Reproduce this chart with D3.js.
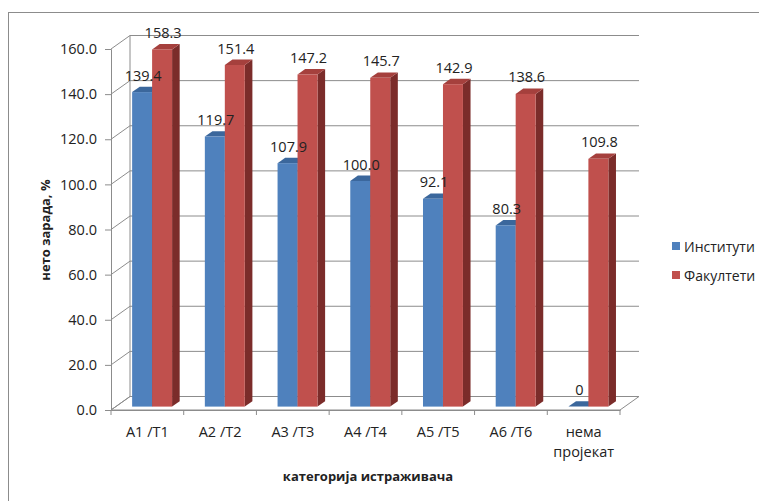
<!DOCTYPE html>
<html>
<head>
<meta charset="utf-8">
<script src="https://cdn.jsdelivr.net/npm/d3@7"></script>
<style>
  body { margin: 0; background: #fff; }
  text { font-family: "Open Sans", "Noto Sans", sans-serif; fill: #222; }
</style>
</head>
<body>
<div class="chart"></div>
<script>
const categories = ["A1 /T1", "A2 /T2", "A3 /T3", "A4 /T4", "A5 /T5", "A6 /T6", "нема\nпројекат"];
const series = ["Институти", "Факултети"];
const institutes = [139.4, 119.7, 107.9, 100.0, 92.1, 80.3, 0];
const faculties = [158.3, 151.4, 147.2, 145.7, 142.9, 138.6, 109.8];
const instituteLabels = ["139.4", "119.7", "107.9", "100.0", "92.1", "80.3", "0"];
const facultyLabels = ["158.3", "151.4", "147.2", "145.7", "142.9", "138.6", "109.8"];
const yTicks = [0, 20, 40, 60, 80, 100, 120, 140, 160];

const width = 759;
const height = 501;
const back = { dx: 19, dy: -13.5 };      // depth of the whole box
const barFront = { dx: 4.75, dy: -3.4 }; // where the bars start in depth
const barDepth = { dx: 7.6, dy: -5.4 };  // how deep a bar is
const grey = "#8c8c8c";

const colors = {
  "Институти": { front: "#4f81bd", top: "#3b679c", side: "#2c4d76" },
  "Факултети": { front: "#c0504d", top: "#a5403d", side: "#7b2c2a" }
};

const svg = d3.select("div.chart")
  .append("svg")
  .attr("width", width)
  .attr("height", height);

// outer frame (runs off the right and bottom)
svg.append("rect")
  .attr("x", 8.5).attr("y", 12.5)
  .attr("width", 800).attr("height", 600)
  .attr("fill", "none").attr("stroke", grey);

const x = d3.scaleBand().domain(d3.range(categories.length)).range([111, 620]);
const xs = d3.scaleBand().domain(series).range([0, x.bandwidth()]).paddingOuter(0.82);
const y = d3.scaleLinear().domain([0, 160]).range([410, 49]);

const grid = svg.append("g").attr("stroke", grey).attr("fill", "none");

// floor
grid.append("path")
  .attr("fill", "#fff")
  .attr("d", `M${x.range()[0]},${y(0)} L${x.range()[1]},${y(0)} L${x.range()[1] + back.dx},${y(0) + back.dy} L${x.range()[0] + back.dx},${y(0) + back.dy} Z`);

// back wall gridlines and side wall diagonals
yTicks.forEach(t => {
  grid.append("line")
    .attr("x1", x.range()[0] + back.dx).attr("x2", x.range()[1] + back.dx)
    .attr("y1", y(t) + back.dy).attr("y2", y(t) + back.dy);
  grid.append("line")
    .attr("x1", x.range()[0]).attr("y1", y(t))
    .attr("x2", x.range()[0] + back.dx).attr("y2", y(t) + back.dy);
});
grid.append("line")
  .attr("x1", x.range()[0] + back.dx).attr("x2", x.range()[0] + back.dx)
  .attr("y1", y(160) + back.dy).attr("y2", y(0) + back.dy);

// front y axis
const yAxis = svg.append("g")
  .attr("transform", `translate(${x.range()[0]},0)`)
  .call(d3.axisLeft(y).tickValues(yTicks).tickFormat(d3.format(".1f")).tickSize(6).tickPadding(8));
yAxis.select(".domain").attr("stroke", grey);
yAxis.selectAll(".tick line").attr("stroke", grey);
yAxis.selectAll(".tick text").style("font-size", "14.5px").attr("fill", "#222");

// front x axis
const xAxis = svg.append("g")
  .attr("transform", `translate(0,${y(0)})`)
  .call(d3.axisBottom(x).tickValues([]).tickSizeOuter(0));
xAxis.select(".domain").attr("stroke", grey);
xAxis.selectAll("line.cat")
  .data(d3.range(categories.length + 1))
  .join("line")
  .attr("class", "cat")
  .attr("stroke", grey)
  .attr("x1", i => x.range()[0] + i * x.step()).attr("x2", i => x.range()[0] + i * x.step())
  .attr("y1", 0).attr("y2", 5);

// category labels
xAxis.selectAll("text.cat")
  .data(categories)
  .join("text")
  .attr("class", "cat")
  .attr("text-anchor", "middle")
  .style("font-size", "14.5px")
  .attr("transform", (d, i) => `translate(${x(i) + x.bandwidth() / 2},27)`)
  .selectAll("tspan")
  .data(d => d.split("\n"))
  .join("tspan")
  .attr("x", 0)
  .attr("dy", (d, i) => i === 0 ? 0 : 20)
  .text(d => d);

// bars
const rows = categories.map((c, i) => ({
  i,
  values: [
    { key: series[0], value: institutes[i], label: instituteLabels[i] },
    { key: series[1], value: faculties[i], label: facultyLabels[i] }
  ]
}));

const bars = svg.append("g");
rows.forEach(row => {
  row.values.forEach(v => {
    const x0 = x(row.i) + xs(v.key) + barFront.dx;
    const x1 = x0 + xs.bandwidth();
    const yb = y(0) + barFront.dy;
    const yt = y(v.value) + barFront.dy;
    const c = colors[v.key];
    const g = bars.append("g");
    if (v.value > 0) {
      g.append("path").attr("fill", c.side)
        .attr("d", `M${x1},${yt} L${x1 + barDepth.dx},${yt + barDepth.dy} L${x1 + barDepth.dx},${yb + barDepth.dy} L${x1},${yb} Z`);
    }
    g.append("path").attr("fill", c.top)
      .attr("d", `M${x0},${yt} L${x0 + barDepth.dx},${yt + barDepth.dy} L${x1 + barDepth.dx},${yt + barDepth.dy} L${x1},${yt} Z`);
    if (v.value > 0) {
      g.append("rect").attr("fill", c.front)
        .attr("x", x0).attr("y", yt)
        .attr("width", x1 - x0).attr("height", yb - yt);
    }
  });
});

// value labels
const labels = svg.append("g");
rows.forEach(row => {
  row.values.forEach(v => {
    const cx = x(row.i) + xs(v.key) + barFront.dx + xs.bandwidth() / 2 + 1;
    labels.append("text")
      .attr("x", cx)
      .attr("y", y(v.value) + barFront.dy + barDepth.dy - 6)
      .attr("text-anchor", "middle")
      .style("font-size", "14.5px")
      .text(v.label);
  });
});

// axis titles
svg.append("text")
  .attr("transform", "translate(45,230) rotate(-90)")
  .attr("text-anchor", "middle")
  .attr("dominant-baseline", "central")
  .style("font-size", "13px")
  .style("font-weight", "bold")
  .text("нето зарада, %");

svg.append("text")
  .attr("x", 368).attr("y", 481)
  .attr("text-anchor", "middle")
  .style("font-size", "13px")
  .style("font-weight", "bold")
  .text("категорија истраживача");

// legend
const legend = svg.append("g").attr("transform", "translate(672,242)");
const item = legend.selectAll("g")
  .data(series)
  .join("g")
  .attr("transform", (d, i) => `translate(0,${i * 29})`);
item.append("rect")
  .attr("width", 8).attr("height", 8)
  .attr("fill", d => colors[d].front);
item.append("text")
  .attr("x", 12).attr("y", 4)
  .attr("dominant-baseline", "central")
  .style("font-size", "14px")
  .text(d => d);
</script>
</body>
</html>
